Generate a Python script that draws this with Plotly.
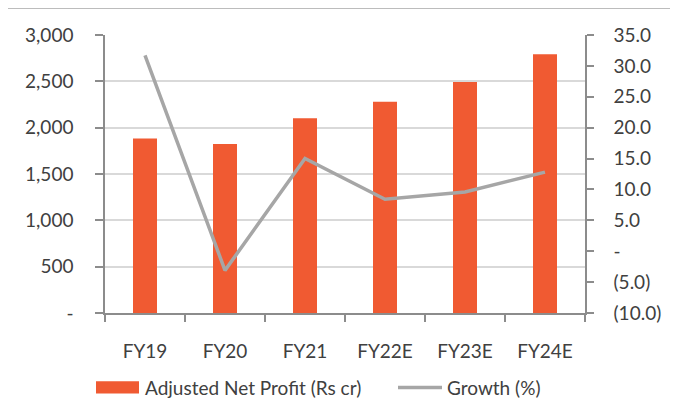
import plotly.graph_objects as go

categories = ["FY19", "FY20", "FY21", "FY22E", "FY23E", "FY24E"]
net_profit = [1882, 1824, 2101, 2281, 2493, 2792]
growth = [31.7, -3.1, 15.0, 8.4, 9.6, 12.8]

left_tickvals = [0, 500, 1000, 1500, 2000, 2500, 3000]
left_ticktext = ["-", "500", "1,000", "1,500", "2,000", "2,500", "3,000"]
right_tickvals = [-10, -5, 0, 5, 10, 15, 20, 25, 30, 35]
right_ticktext = ["(10.0)", "(5.0)", "-", "5.0", "10.0", "15.0", "20.0", "25.0", "30.0", "35.0"]

bar_name = "Adjusted Net Profit (Rs cr)"
line_name = "Growth (%)"

BAR_COLOR = "#F05A32"
LINE_COLOR = "#A6A6A6"
AXIS_COLOR = "#8C8C8C"
TEXT_COLOR = "#404040"
FONT = "Lato, 'Open Sans', sans-serif"
FS = 19

W, H = 678, 408
OFF = 8  # page body margin offset
# desired plot area in screen pixels
X0, X1, Y0, Y1 = 105, 585, 35, 312.7
ml = X0 - OFF
mr = W - (X1 - OFF)
mt = Y0 - OFF
mb = H - (Y1 - OFF)
pw, ph = W - ml - mr, H - mt - mb

def px(x):
    return (x - X0) / (X1 - X0)

def py(y):
    return (Y1 - y) / (Y1 - Y0)

fig = go.Figure()
fig.add_trace(go.Bar(x=categories, y=net_profit, name=bar_name, marker_color=BAR_COLOR,
                     marker_line_width=0, width=0.3, yaxis="y", showlegend=False))
fig.add_trace(go.Scatter(x=categories, y=growth, name=line_name, mode="lines",
                         line=dict(color=LINE_COLOR, width=3.5), yaxis="y2", showlegend=False))

fig.update_layout(
    width=W, height=H,
    margin=dict(l=ml, r=mr, t=mt, b=mb, autoexpand=False),
    paper_bgcolor="white", plot_bgcolor="white",
    font=dict(family=FONT, size=FS, color=TEXT_COLOR),
    xaxis=dict(type="category", showline=True, linecolor=AXIS_COLOR, linewidth=1.5,
               ticks="outside", ticklen=7, tickcolor=AXIS_COLOR, tickwidth=1.5,
               tickson="boundaries", ticklabelstandoff=20, showgrid=False,
               tickfont=dict(size=FS, color=TEXT_COLOR)),
    yaxis=dict(range=[0, 3000], tickvals=left_tickvals, ticktext=left_ticktext,
               showline=True, linecolor=AXIS_COLOR, linewidth=1.5,
               ticks="outside", ticklen=8, tickcolor=AXIS_COLOR, tickwidth=1.5,
               ticklabelstandoff=18, showgrid=True, gridcolor="#D9D9D9", gridwidth=1.5,
               zeroline=False, tickfont=dict(size=FS, color=TEXT_COLOR)),
    yaxis2=dict(range=[-10, 35], tickvals=right_tickvals, ticktext=right_ticktext,
                overlaying="y", side="right", showline=True, linecolor=AXIS_COLOR, linewidth=1.5,
                ticks="outside", ticklen=7, tickcolor=AXIS_COLOR, tickwidth=1.5,
                ticklabelstandoff=16, showgrid=False, zeroline=False,
                tickfont=dict(size=FS, color=TEXT_COLOR)),
    bargap=0.7,
)

# chart border (partially clipped by the window)
fig.add_shape(type="rect", xref="paper", yref="paper",
              x0=px(6), x1=px(720), y0=py(440), y1=py(8),
              line=dict(color="#A6A6A6", width=1.5), fillcolor="rgba(0,0,0,0)", layer="below")

# manual legend
ly = py(387)
fig.add_shape(type="rect", xref="paper", yref="paper",
              x0=px(96), x1=px(139), y0=py(393), y1=py(381),
              line=dict(width=0), fillcolor=BAR_COLOR)
fig.add_annotation(xref="paper", yref="paper", x=px(143), y=ly, text=bar_name,
                   showarrow=False, xanchor="left", yanchor="middle",
                   font=dict(family=FONT, size=FS, color=TEXT_COLOR))
fig.add_shape(type="line", xref="paper", yref="paper",
              x0=px(398), x1=px(442), y0=ly, y1=ly,
              line=dict(color=LINE_COLOR, width=3.5))
fig.add_annotation(xref="paper", yref="paper", x=px(445), y=ly, text=line_name,
                   showarrow=False, xanchor="left", yanchor="middle",
                   font=dict(family=FONT, size=FS, color=TEXT_COLOR))

fig.write_html("out.html")
